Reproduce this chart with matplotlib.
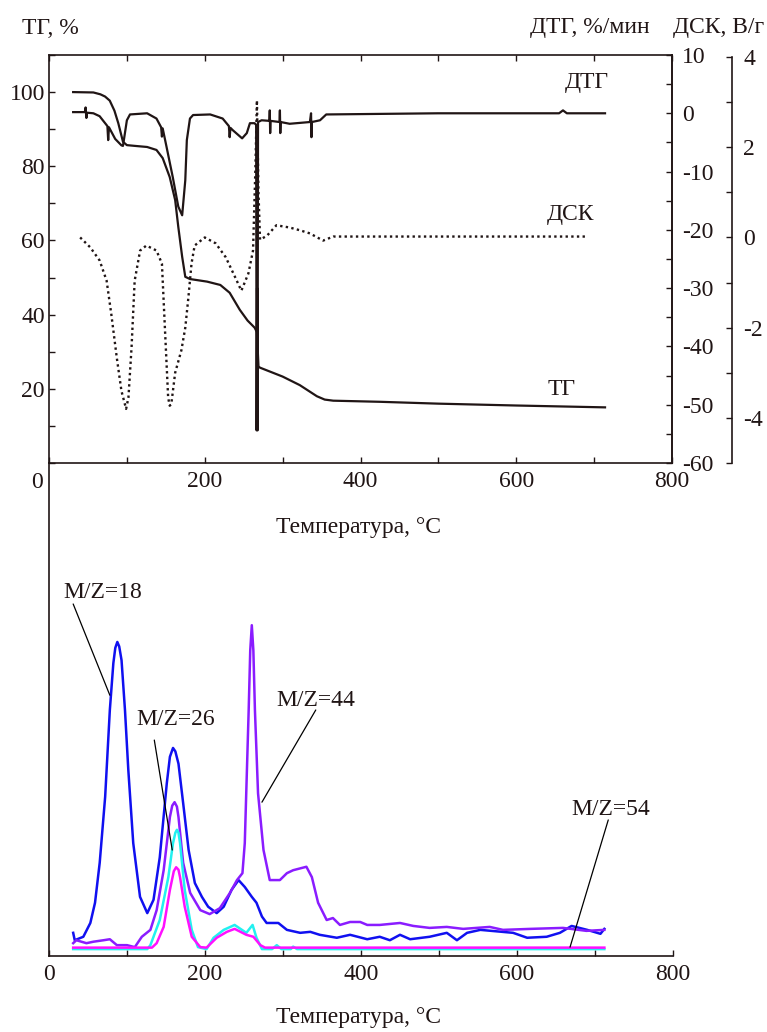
import numpy as np
import matplotlib
matplotlib.use("Agg")
import matplotlib.pyplot as plt
from matplotlib.ticker import MultipleLocator, FixedLocator

plt.rcParams['font.family'] = ['Liberation Serif', 'DejaVu Serif']
plt.rcParams['font.size'] = 17
plt.rcParams['axes.unicode_minus'] = False
ink = '#201515'
plt.rcParams['text.color'] = ink
plt.rcParams['axes.edgecolor'] = ink
plt.rcParams['xtick.color'] = ink
plt.rcParams['ytick.color'] = ink

# ---- top panel: TG / DTG / DSC ----
tg_t = [31, 57, 66, 72, 78, 84, 89, 95, 100, 110, 126, 138, 146, 155, 162, 166, 171, 175,
        181, 203, 220, 232, 245, 255, 264, 267, 269, 271, 300, 322, 344, 354, 365, 425,
        500, 600, 714]
tg_v = [100, 99.9, 99.4, 98.8, 97.7, 95, 91.6, 86.6, 85.7, 85.5, 85.2, 84.4, 82.2, 77.1,
        70.9, 63.7, 55.6, 50.2, 49.6, 48.9, 48, 45.9, 41.3, 38.4, 36.5, 35.3, 26, 25.7,
        23.3, 21, 18, 17.1, 16.8, 16.5, 16.0, 15.5, 15.0]

dtg_t = [31, 46, 47, 48, 49, 57, 65, 75, 76, 77, 85, 93, 95, 100, 104, 126, 138, 144, 145,
         146, 151, 159, 166, 171, 175, 177, 181, 185, 207, 223, 231, 232, 233, 236, 248,
         254, 258, 264, 266, 266.6, 267.2, 267.8, 268.4, 273, 283, 283.5, 284, 284.5, 296,
         296.5, 297, 297.5, 309, 335, 336.5, 337, 337.5, 348, 356, 500, 655, 660, 665, 714]
dtg_v = [0.2, 0.2, 1.0, -0.8, 0.1, 0.0, -0.5, -2.2, -4.6, -2.4, -4.4, -5.5, -5.6, -1.2,
         -0.2, 0.0, -0.9, -2.4, -4.0, -2.6, -5.8, -11, -16.0, -17.5, -11.5, -4.6, -0.9,
         -0.3, -0.2, -0.9, -2.2, -4.1, -2.5, -2.9, -4.3, -3.4, -1.7, -1.7, -2.0, -54.4,
         -30, -54.4, -1.5, -1.2, -1.3, 0.5, -3.4, -1.3, -1.5, 0.5, -3.4, -1.5, -1.8, -1.5,
         0.0, -4.1, -1.5, -1.2, -0.2, 0.0, 0.0, 0.5, 0.0, 0.0]

dsc_t = [40, 53, 65, 74, 80, 87, 93, 99, 102, 106, 110, 117, 125, 138, 145, 149, 153, 155,
         157, 162, 170, 175, 179, 183, 187, 200, 214, 227, 239, 247, 256, 262, 265, 267,
         269, 271, 280, 292, 309, 322, 335, 352, 365, 692]
dsc_v = [0, -0.22, -0.51, -0.96, -1.7, -2.66, -3.4, -3.8, -3.55, -2.44, -0.96, -0.29,
         -0.18, -0.29, -0.58, -2.07, -3.55, -3.73, -3.7, -3.0, -2.5, -2.0, -1.33, -0.58,
         -0.18, 0, -0.13, -0.44, -0.88, -1.18, -0.8, -0.29, 1.5, 3.04, 1.0, -0.05, 0.04,
         0.27, 0.22, 0.16, 0.09, -0.07, 0.02, 0.02]

# ---- bottom panel: mass spectrometry ion currents (arb. units) ----
ms18_t = [31, 33, 44, 53, 59, 65, 72, 78, 82.5, 85, 87.6, 90, 93, 97.4, 101.7, 108, 116.7,
          126, 134, 142, 151, 155, 159, 162, 166, 172, 179, 187, 196, 204, 215, 224, 234,
          243, 251, 260, 266, 273, 279, 294, 305, 322, 335, 347, 369, 386, 408, 424, 437,
          450, 463, 488, 510, 523, 536, 553, 595, 613, 638, 655, 670, 690, 707, 712]
ms18_v = [4.7, 3.2, 3.9, 6.7, 10.8, 18.9, 32.3, 49.9, 59.4, 62.5, 63.7, 62.8, 60, 49.9,
          37.7, 22.9, 12, 8.7, 11.4, 20, 35, 40.4, 42.2, 41.5, 39, 31, 21.5, 14.8, 12, 10,
          8.7, 10, 13.4, 15.4, 14, 12, 10.8, 8, 6.7, 6.7, 5.3, 4.7, 4.9, 4.3, 3.7, 4.3, 3.4,
          3.9, 3.2, 4.3, 3.4, 3.9, 4.7, 3.2, 4.7, 5.3, 4.7, 3.7, 3.9, 4.7, 6.1, 5.3, 4.5,
          5.5]

ms44_t = [31, 35, 48, 57, 70, 78, 87, 100, 110, 119, 130, 138, 147, 155, 158, 161, 164,
          166, 172, 181, 194, 206, 219, 232, 241, 248, 251, 256, 258, 260, 262, 264, 268,
          275, 283, 296, 305, 313, 330, 337, 345, 356, 364, 373, 386, 399, 408, 424, 450,
          467, 488, 510, 531, 565, 582, 617, 659, 689, 712]
ms44_v = [2.6, 3.2, 2.6, 2.9, 3.2, 3.4, 2.2, 2.2, 1.8, 3.9, 5.3, 9.3, 17.4, 28.2, 30.5,
          31.2, 30.3, 28.2, 18.9, 12.8, 9.3, 8.5, 9.7, 12.8, 15.4, 16.8, 22.9, 49.9, 62,
          67.1, 62, 49.9, 33, 21.5, 15.4, 15.4, 16.8, 17.4, 18.1, 16, 10.8, 7.3, 7.7, 6.3,
          6.9, 6.9, 6.3, 6.3, 6.7, 6.1, 5.7, 5.9, 5.5, 5.9, 5.3, 5.5, 5.7, 5.1, 5.3]

ms26_t = [31, 126, 130, 142, 153, 159, 162, 164, 166, 168, 174, 183, 191, 202, 211, 224,
          238, 253, 261, 266, 273, 286, 292, 298, 310, 313, 318, 712]
ms26_v = [1.4, 1.4, 2.2, 7.3, 16, 22.9, 25, 25.6, 25, 22.9, 13.4, 5.3, 1.8, 1.4, 3.7, 5.3,
          6.3, 4.7, 6.3, 3.7, 1.4, 1.4, 2.2, 1.4, 1.4, 1.9, 1.4, 1.4]

ms54_t = [31, 132, 138, 147, 155, 160, 163, 166, 168, 174, 183, 194, 202, 215, 228, 238,
          253, 262, 271, 277, 712]
ms54_v = [1.7, 1.7, 2.6, 5.9, 13.4, 17.2, 18, 17.5, 16, 10, 3.9, 1.8, 1.7, 3.7, 4.9, 5.5,
          4.3, 3.9, 2.2, 1.7, 1.7]

ms_labels = ['M/Z=18', 'M/Z=26', 'M/Z=44', 'M/Z=54']

W, H = 767, 1032
fig = plt.figure(figsize=(W / 100, H / 100), dpi=100)

# top axes
ax = fig.add_axes([49 / W, 1 - 463 / H, 623 / W, 408 / H])
ax2 = ax.twinx()
ax3 = ax.twinx()
ax3.spines['right'].set_position(('outward', 60 * 0.72))
for s in ['top', 'bottom', 'left']:
    ax3.spines[s].set_visible(False)
    ax2.spines[s].set_visible(False)
ax3.spines['right'].set_bounds(-5, 4)

ax.plot(tg_t, tg_v, color=ink, lw=1.6)
ax2.plot(dtg_t, dtg_v, color=ink, lw=1.6)
ax3.plot(dsc_t, dsc_v, color=ink, lw=1.7, linestyle=(0, (1, 1.4)))

ax.set_xlim(0, 800)
ax.set_ylim(0, 110)
ax.xaxis.set_minor_locator(MultipleLocator(100))
ax.set_xticks([0, 200, 400, 600, 800])
ax.set_xticklabels(['', '200', '400', '600', '800'])
ax.yaxis.set_major_locator(FixedLocator([20, 40, 60, 80, 100]))
ax.yaxis.set_minor_locator(MultipleLocator(10))
ax.tick_params(which='both', direction='in', top=True, length=4.5, width=1)
ax.tick_params(axis='x', pad=6)
ax.tick_params(axis='y', pad=3)
ax.annotate('0', xy=(0, 0), xytext=(-12, -20), textcoords='offset pixels',
            ha='center', va='center')

ax2.set_ylim(-60, 10)
ax2.yaxis.set_major_locator(MultipleLocator(10))
ax2.yaxis.set_minor_locator(MultipleLocator(5))
ax2.tick_params(which='both', direction='in', length=4.5, width=1, pad=7)

ax3.set_ylim(-5, 4 + 2 / 45)
ax3.yaxis.set_major_locator(FixedLocator([-4, -2, 0, 2, 4]))
ax3.yaxis.set_minor_locator(FixedLocator([-5, -3, -1, 1, 3]))
ax3.tick_params(which='both', direction='in', length=4.5, width=1, pad=8)

for s in list(ax.spines.values()) + list(ax2.spines.values()) + list(ax3.spines.values()):
    s.set_linewidth(1.2)

ax.text(691, 102.7, 'ДТГ', ha='center', va='center')
ax.text(670, 66.9, 'ДСК', ha='center', va='center')
ax.text(658, 19.8, 'ТГ', ha='center', va='center')

fig.text(22 / W, 1 - 28 / H, 'ТГ, %', ha='left', va='center')
fig.text(530 / W, 1 - 27 / H, 'ДТГ, %/мин', ha='left', va='center')
fig.text(673 / W, 1 - 27 / H, 'ДСК, В/г', ha='left', va='center')
fig.text(358 / W, 1 - 527 / H, 'Температура, °C', ha='center', va='center')

# bottom axes
bx = fig.add_axes([49 / W, 1 - 956 / H, 624 / W, 493 / H])
bx.patch.set_visible(False)
bx.spines['top'].set_visible(False)
bx.spines['right'].set_visible(False)
for s in ['left', 'bottom']:
    bx.spines[s].set_linewidth(1.2)

bx.plot(ms18_t, ms18_v, color='#1010f0', lw=1.8)
bx.plot(ms44_t, ms44_v, color='#8a1cff', lw=1.8)
bx.plot(ms26_t, ms26_v, color='#22f0f0', lw=1.8)
bx.plot(ms54_t, ms54_v, color='#ff10ff', lw=1.8)

bx.set_xlim(0, 800)
bx.set_ylim(0, 100)
bx.set_yticks([])
bx.xaxis.set_major_locator(MultipleLocator(200))
bx.xaxis.set_minor_locator(MultipleLocator(100))
bx.tick_params(which='both', direction='in', length=4.5, width=1, pad=6)

label_pos = [(69, 73.8), (163, 47.9), (342, 51.9), (720, 29.8)]
line_from = [(31, 71.4), (135, 43.8), (342, 49.9), (717, 27.6)]
line_to = [(78, 52.9), (158, 21.5), (273, 31.2), (668, 1.8)]
for lab, p, a, b in zip(ms_labels, label_pos, line_from, line_to):
    bx.text(p[0], p[1], lab, ha='center', va='center')
    bx.annotate('', xy=b, xytext=a,
                arrowprops=dict(arrowstyle='-', color='black', lw=0.9,
                                shrinkA=0, shrinkB=0))

fig.text(358 / W, 1 - 1018 / H, 'Температура, °C', ha='center', va='center')

fig.savefig('out.png', dpi=100)
